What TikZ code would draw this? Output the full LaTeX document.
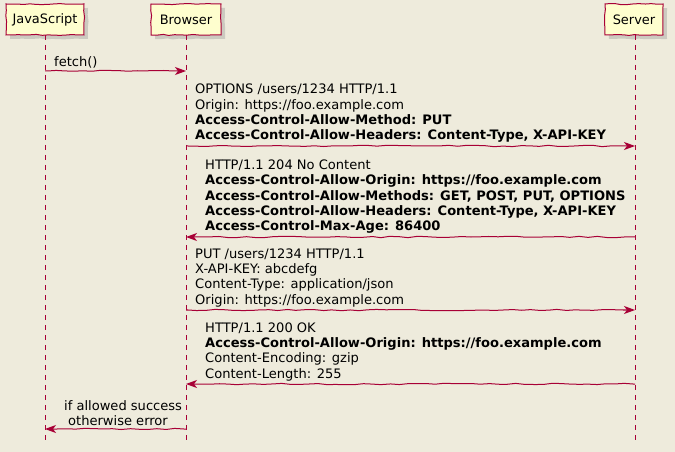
\documentclass[tikz,border=0pt]{standalone}
\usepackage{fontspec}
\setmainfont{DejaVu Sans}
\usetikzlibrary{arrows.meta,decorations.pathmorphing,shadows}
\definecolor{bg}{HTML}{EEEBDC}
\definecolor{umlred}{HTML}{A80036}
\definecolor{umlfill}{HTML}{FEFECE}
\begin{document}
\begin{tikzpicture}[x=1bp,y=-1bp,
  participant/.style={draw=umlred, fill=umlfill, line width=1bp, minimum height=31bp,
    inner xsep=0, font=\fontsize{13}{15}\selectfont,
    drop shadow={shadow xshift=4bp, shadow yshift=-4bp, opacity=0.3},
    decorate, decoration={random steps, segment length=6bp, amplitude=0.6bp}},
  lifeline/.style={draw=umlred, line width=1bp, dash pattern=on 5bp off 5bp},
  msgline/.style={draw=umlred, line width=1bp, -{Stealth[length=11bp,width=8bp,inset=3bp]},
    decorate, decoration={random steps, segment length=9bp, amplitude=0.7bp, pre length=2bp, post length=12bp}},
  msgtext/.style={anchor=south west, align=left, inner sep=0, font=\fontsize{13.1}{15.4}\selectfont}
]
\fill[bg] (0,0) rectangle (675,452);
\useasboundingbox (0,0) rectangle (675,452);

% participants
\node[participant, minimum width=78bp] (js) at (45,19.5) {JavaScript};
\node[participant, minimum width=70bp] (br) at (186,19.5) {Browser};
\node[participant, minimum width=58bp] (sv) at (634,19.5) {Server};

% lifeline ends
\coordinate (jsend) at (45,445);
\coordinate (brend) at (186,445);
\coordinate (svend) at (635,445);
\draw[lifeline] (45,35) coordinate (jstop) -- (jsend);
\draw[lifeline] (186,35) coordinate (brtop) -- (brend);
\draw[lifeline] (635,35) coordinate (svtop) -- (svend);

% message endpoints
\coordinate (j1) at (45,71);   \coordinate (b1) at (186,71);
\coordinate (b2) at (186,146); \coordinate (s2) at (635,146);
\coordinate (s3) at (635,237); \coordinate (b3) at (186,237);
\coordinate (b4) at (186,310); \coordinate (s4) at (635,310);
\coordinate (s5) at (635,384); \coordinate (b5) at (186,384);
\coordinate (b6) at (186,429); \coordinate (j6) at (45,429);

% messages
\draw[msgline] (j1) -- (b1);
\node[msgtext] (t1) at (54,68) {fetch()};

\draw[msgline] (b2) -- (s2);
\node[msgtext] (t2) at (195,143) {OPTIONS /users/1234 HTTP/1.1\\
Origin: https://foo.example.com\\
\textbf{Access-Control-Allow-Method: PUT}\\
\textbf{Access-Control-Allow-Headers: Content-Type, X-API-KEY}};

\draw[msgline] (s3) -- (b3);
\node[msgtext] (t3) at (205,234) {HTTP/1.1 204 No Content\\
\textbf{Access-Control-Allow-Origin: https://foo.example.com}\\
\textbf{Access-Control-Allow-Methods: GET, POST, PUT, OPTIONS}\\
\textbf{Access-Control-Allow-Headers: Content-Type, X-API-KEY}\\
\textbf{Access-Control-Max-Age: 86400}};

\draw[msgline] (b4) -- (s4);
\node[msgtext] (t4) at (195,307) {PUT /users/1234 HTTP/1.1\\
X-API-KEY: abcdefg\\
Content-Type: application/json\\
Origin: https://foo.example.com};

\draw[msgline] (s5) -- (b5);
\node[msgtext] (t5) at (205,381) {HTTP/1.1 200 OK\\
\textbf{Access-Control-Allow-Origin: https://foo.example.com}\\
Content-Encoding: gzip\\
Content-Length: 255};

\draw[msgline] (b6) -- (j6);
\node[msgtext] (t6) at (64,426) {if allowed success\\
\hspace*{4bp}otherwise error};
\end{tikzpicture}
\end{document}
